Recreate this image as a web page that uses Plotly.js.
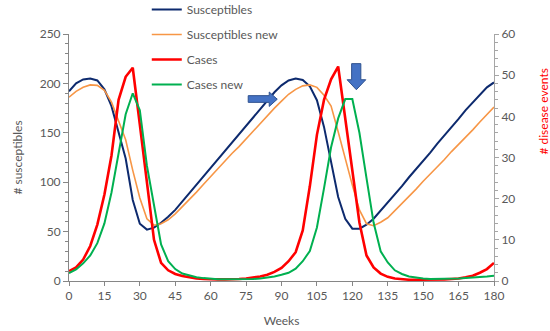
<!DOCTYPE html>
<html>
<head>
<meta charset="utf-8">
<script src="https://cdn.plot.ly/plotly-3.0.1.min.js"></script>
<style>html,body{margin:0;padding:0;background:#fff;}#chart{width:550px;height:331px;}</style>
</head>
<body>
<div id="chart"></div>
<script>
// Weeks (x values)
const weeks = [0,3,6,9,12,15,18,21,24,27,30,33,36,39,42,45,48,51,54,57,60,63,66,69,72,75,78,81,84,87,90,93,96,99,102,105,108,111,114,117,120,123,126,129,132,135,138,141,144,147,150,153,156,159,162,165,168,171,174,177,180];

// # susceptibles (left axis)
const susceptibles = [192,200,204,205,203,194,177,151,124,82,58,52,54,59,65,72,80.5,89,98,106,115,123,132,140,149,158,166,175,183,191,198,203,205,203.5,197,183,156,122,85,63,53,53,57,63,71,79,88,96,105,113,122,130,139,147,156,164,173,181,189,196,201];
const susceptiblesNew = [186,192,196,198.5,198,193,181,163,143,112,84,63,56.5,58,62,68,75,83,90,98,106,113,121,129,136,144,152,159,167,175,182,189,194,197.5,198.5,196,188,177,151,123,97,72,58,56,59.5,64,71,78,86,93,101,108,116,123,131,138,146,153,161,168,176];

// # disease events (right axis)
const cases = [2.4,3.3,5.2,8.5,13.7,21,30.5,44,49.6,51.8,38,24.5,10,4.4,2.6,1.7,1.2,0.9,0.6,0.5,0.4,0.4,0.4,0.4,0.5,0.6,0.8,1.1,1.5,2.2,3.2,4.8,7,12.3,23,35.5,44,49,52.1,39.2,26.7,14.2,6.2,3.3,1.8,1,0.6,0.4,0.3,0.3,0.3,0.3,0.3,0.4,0.5,0.6,0.9,1.3,2,2.9,4.4];
const casesNew = [1.9,2.8,4.3,6.2,9.2,14,21.5,31,40.5,45.6,41.5,28,18,8.9,4.8,2.9,1.8,1.3,0.9,0.7,0.5,0.4,0.4,0.4,0.4,0.4,0.5,0.6,0.8,1.1,1.5,2,3,4.8,7.3,13,22.5,32.5,39.5,44.2,44.2,36,25,14.2,7.2,4.5,2.6,1.7,1.1,0.8,0.6,0.5,0.5,0.5,0.6,0.6,0.7,0.8,0.9,1.1,1.3];

const seriesNames = ["Susceptibles","Susceptibles new","Cases","Cases new"];
const xTicks = [0,15,30,45,60,75,90,105,120,135,150,165,180];

const FONT = "Lato, 'Open Sans', sans-serif";
const GRAY = "#595959";

const traces = [
  {x: weeks, y: susceptibles, name: seriesNames[0], mode: "lines", line: {color: "#0D2A6E", width: 2}, legendgroup: "a"},
  {x: weeks, y: susceptiblesNew, name: seriesNames[1], mode: "lines", line: {color: "#F79646", width: 1.6}, legendgroup: "b"},
  {x: weeks, y: cases, name: seriesNames[2], mode: "lines", line: {color: "#FF0000", width: 2.6}, yaxis: "y2", legendgroup: "c"},
  {x: weeks, y: casesNew, name: seriesNames[3], mode: "lines", line: {color: "#00B050", width: 2}, yaxis: "y2", legendgroup: "d"}
];

const layout = {
  width: 550, height: 331,
  margin: {l: 69, r: 56, t: 34, b: 50, pad: 0, autoexpand: false},
  paper_bgcolor: "#fff", plot_bgcolor: "#fff",
  font: {family: FONT, size: 12, color: GRAY},
  showlegend: true,
  legend: {x: 0.183, xanchor: "left", y: 1.158, yanchor: "top", bgcolor: "rgba(0,0,0,0)",
           font: {family: FONT, size: 12, color: GRAY}, traceorder: "grouped", tracegroupgap: 6},
  xaxis: {range: [0, 180], tickvals: xTicks, ticks: "outside", ticklen: 4, tickcolor: "#868686",
          showline: true, linecolor: "#868686", linewidth: 1, showgrid: false, zeroline: false,
          tickfont: {family: FONT, size: 12, color: GRAY},
          title: {text: "Weeks", font: {family: FONT, size: 12, color: GRAY}, standoff: 14}},
  yaxis: {range: [0, 250], dtick: 50, ticks: "outside", ticklen: 5, tickcolor: "#868686",
          minor: {dtick: 10, ticks: "outside", ticklen: 3, tickcolor: "#868686"},
          showline: true, linecolor: "#868686", linewidth: 1, showgrid: false, zeroline: false,
          tickfont: {family: FONT, size: 12, color: GRAY},
          title: {text: "# susceptibles", font: {family: FONT, size: 12, color: GRAY}, standoff: 14}},
  yaxis2: {range: [0, 60], dtick: 10, overlaying: "y", side: "right", ticks: "outside", ticklen: 4, tickcolor: "#A6A6A6",
           minor: {dtick: 2, ticks: "outside", ticklen: 3, tickcolor: "#A6A6A6"},
           showline: true, linecolor: "#A6A6A6", linewidth: 1, showgrid: false, zeroline: false,
           tickfont: {family: FONT, size: 12, color: GRAY}},
  annotations: [
    {text: "# disease events", xref: "paper", yref: "paper", x: 1.117, y: 0.685, textangle: -90,
     showarrow: false, font: {family: FONT, size: 12, color: "#FF0000"}, xanchor: "center", yanchor: "middle"}
  ],
  shapes: [
    {type: "path", xref: "x", yref: "y",
     path: "M75.9,187.6 L84.8,187.6 L84.8,191.3 L88.2,184 L84.8,176.7 L84.8,180.8 L75.9,180.8 Z",
     fillcolor: "#4472C4", line: {color: "#2F528F", width: 1}},
    {type: "path", xref: "x", yref: "y",
     path: "M119.7,220 L123.6,220 L123.6,203.7 L125.7,203.7 L121.7,193.6 L117.8,203.7 L119.7,203.7 Z",
     fillcolor: "#4472C4", line: {color: "#2F528F", width: 1}}
  ]
};

Plotly.newPlot("chart", traces, layout, {displayModeBar: false, staticPlot: true});
</script>
</body>
</html>
